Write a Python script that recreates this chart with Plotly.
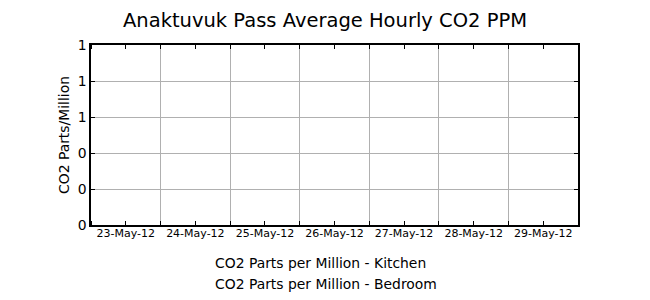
import plotly.graph_objects as go

title = "Anaktuvuk Pass Average Hourly CO2 PPM"
y_title = "CO2 Parts/Million"
series_names = ["CO2 Parts per Million - Kitchen", "CO2 Parts per Million - Bedroom"]
timestamps = [None]      # no readings are plotted in the reference
kitchen_ppm = [None]
bedroom_ppm = [None]
x_start = "2012-05-23"
x_end = "2012-05-30"
y_ticks = [0, 0.2, 0.4, 0.6, 0.8, 1.0]

font = "DejaVu Sans"
L, R, T, B = 91, 72, 45, 75
W, H = 650, 300
fig = go.Figure()
for name, vals in zip(series_names, [kitchen_ppm, bedroom_ppm]):
    fig.add_trace(go.Scatter(x=timestamps, y=vals, mode="lines", name=name,
                             showlegend=True,
                             line=dict(color="rgba(0,0,0,0)", width=1)))

axis_common = dict(showline=True, linecolor="black", linewidth=1.5, mirror="ticks",
                   ticks="inside", ticklen=4, tickcolor="black", tickwidth=1,
                   showgrid=True, gridcolor="#b0b0b0", gridwidth=1, zeroline=False)
fig.update_layout(
    width=W, height=H,
    margin=dict(l=L, r=R, t=T, b=B, autoexpand=False),
    paper_bgcolor="white", plot_bgcolor="white",
    font=dict(family=font, color="black"),
    title=dict(text=title, x=0.5, xanchor="center", y=1 - 20 / H, yanchor="middle",
               font=dict(size=19.5, family=font)),
    xaxis=dict(range=[x_start, x_end], type="date", tick0=x_start, dtick=86400000,
               tickformat="%d-%b-%y", ticklabelmode="period", tickfont=dict(size=11),
               tickangle=0, ticklabelstandoff=-3,
               minor=dict(ticks="inside", ticklen=4, dtick=43200000, tick0=x_start,
                          showgrid=False, tickcolor="black"),
               **axis_common),
    yaxis=dict(range=[0, 1], tickvals=y_ticks, tickformat=".0f", tickfont=dict(size=13.9),
               **axis_common),
    showlegend=True,
    legend=dict(x=175 / W, xanchor="left", y=(H - 247) / H, yanchor="top",
                xref="container", yref="container", font=dict(size=13.9, family=font),
                bgcolor="rgba(0,0,0,0)", tracegroupgap=0, itemwidth=30),
)
fig.add_annotation(text=y_title, textangle=-90, showarrow=False,
                   xref="paper", yref="paper", x=(64 - L) / (W - L - R), y=0.5,
                   xanchor="center", yanchor="middle", font=dict(size=13.9, family=font))
fig.write_html("out.html")
